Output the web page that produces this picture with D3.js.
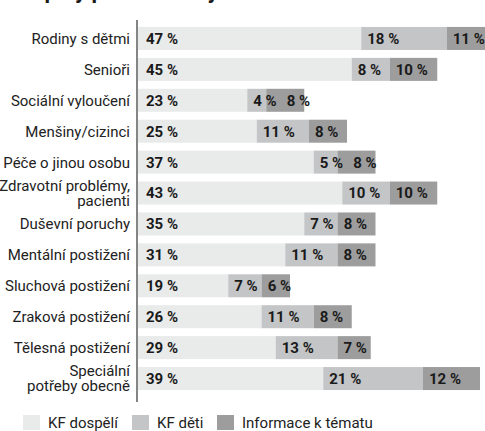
<!DOCTYPE html>
<html>
<head>
<meta charset="utf-8">
<script src="https://cdn.jsdelivr.net/npm/d3@7"></script>
<style>
  body { margin: 0; background: #fff; }
  svg { display: block; font-family: Roboto, "Noto Sans", sans-serif; }
</style>
</head>
<body>
<div id="chart"></div>
<script>
// data
const categories = [
    ["Rodiny s dětmi"],
    ["Senioři"],
    ["Sociální vyloučení"],
    ["Menšiny/cizinci"],
    ["Péče o jinou osobu"],
    ["Zdravotní problémy,", "pacienti"],
    ["Duševní poruchy"],
    ["Mentální postižení"],
    ["Sluchová postižení"],
    ["Zraková postižení"],
    ["Tělesná postižení"],
    ["Speciální", "potřeby obecně"]
];
const kfDospeli = [47, 45, 23, 25, 37, 43, 35, 31, 19, 26, 29, 39];
const kfDeti    = [18, 8, 4, 11, 5, 10, 7, 11, 7, 11, 13, 21];
const informace = [11, 10, 8, 8, 8, 10, 8, 8, 6, 8, 7, 12];
const seriesNames = ["KF dospělí", "KF děti", "Informace k tématu"];
const colors = ["#e9eaea", "#c4c5c7", "#9d9d9e"];
const title = "Cílové skupiny pro knihovny";

const width = 485, height = 431;

const svg = d3.select("#chart").append("svg")
    .attr("width", width)
    .attr("height", height);

// title, mostly cropped off the top
const titleText = svg.append("text")
    .attr("y", -2)
    .style("font-size", "22px")
    .style("font-weight", 700)
    .attr("fill", "#1a1a1a")
    .text(title);
const skupinyEnd = titleText.node().getSubStringLength(0, 14);
titleText.attr("x", 86 - skupinyEnd);

const rows = categories.map((c, i) => ({
    label: c,
    values: [kfDospeli[i], kfDeti[i], informace[i]]
}));

const x = d3.scaleLinear().domain([0, 100]).range([138, 138 + 475]);
const y = d3.scaleBand()
    .domain(d3.range(rows.length))
    .range([23, 394])
    .paddingInner(0.256)
    .paddingOuter(0.128);

const g = svg.append("g");

const row = g.selectAll("g.row")
    .data(rows)
    .join("g")
    .attr("class", "row")
    .attr("transform", (d, i) => `translate(0,${y(i)})`);

row.each(function(d) {
    const sel = d3.select(this);
    let acc = 0;
    d.values.forEach((v, k) => {
        const x0 = x(acc), x1 = x(acc + v);
        sel.append("rect")
            .attr("x", x0)
            .attr("y", 0)
            .attr("width", x1 - x0)
            .attr("height", y.bandwidth())
            .attr("fill", colors[k]);
        acc += v;
    });

    // value labels, pushed right when they would collide
    acc = 0;
    let prevEnd = -Infinity;
    d.values.forEach((v, k) => {
        const x0 = x(acc);
        const lx = Math.max(x0 + (k === 0 ? 8 : 6), prevEnd + 10);
        const t = sel.append("text")
            .attr("x", lx)
            .attr("y", y.bandwidth() / 2)
            .attr("dy", "0.36em")
            .style("font-size", "15px")
            .style("font-weight", 700)
            .attr("fill", "#1a1a1a")
            .text(v + " %");
        prevEnd = lx + t.node().getComputedTextLength();
        acc += v;
    });

    const lab = sel.append("text")
        .attr("text-anchor", "end")
        .style("font-size", "15px")
        .attr("fill", "#222");
    const lh = 15;
    d.label.forEach((line, j) => {
        lab.append("tspan")
            .attr("x", 130)
            .attr("y", y.bandwidth() / 2 + (j - (d.label.length - 1) / 2) * lh)
            .attr("dy", "0.36em")
            .text(line);
    });
});

// vertical axis line
svg.append("line")
    .attr("x1", 137).attr("x2", 137)
    .attr("y1", 20).attr("y2", 402)
    .attr("stroke", "#333")
    .attr("stroke-width", 1.2);

// legend
const legendX = [23, 132, 217];
const legend = svg.append("g")
    .selectAll("g")
    .data(seriesNames)
    .join("g")
    .attr("transform", (d, i) => `translate(${legendX[i]},415)`);

legend.append("rect")
    .attr("width", 17)
    .attr("height", 15)
    .attr("fill", (d, i) => colors[i]);

legend.append("text")
    .attr("x", 25)
    .attr("y", 13)
    .style("font-size", "15px")
    .attr("fill", "#222")
    .text(d => d);
</script>
</body>
</html>
